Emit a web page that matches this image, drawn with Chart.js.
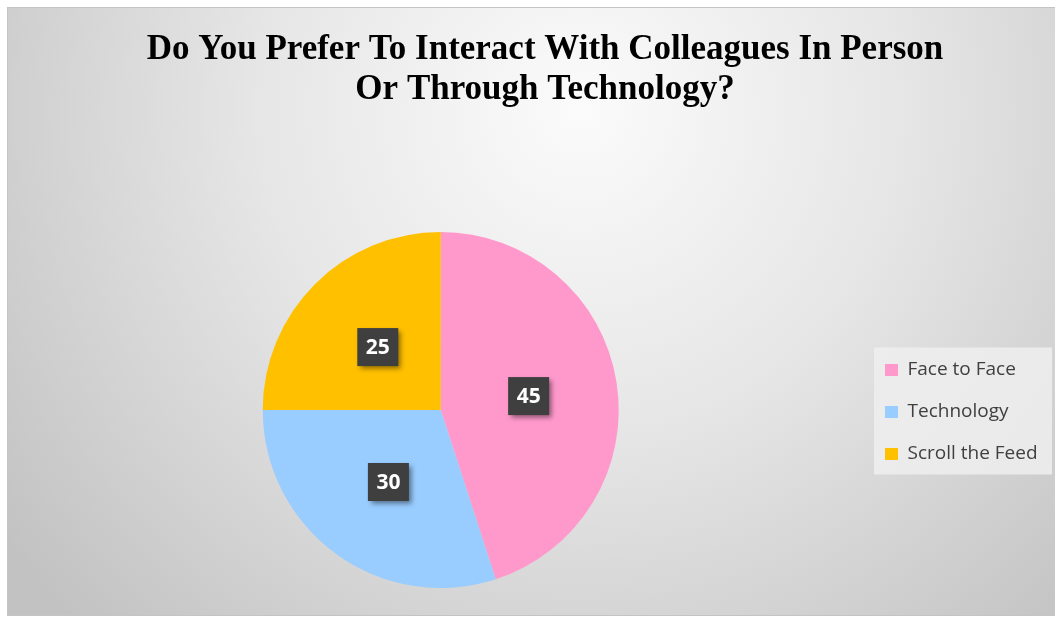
<!DOCTYPE html>
<html lang="en">
<head>
    <meta charset="UTF-8">
    <title>Interacting with colleagues</title>
    <script src="https://cdn.jsdelivr.net/npm/chart.js@4.4.0/dist/chart.umd.min.js"></script>
    <style>
        html, body { margin: 0; padding: 0; background: #ffffff; }
        canvas { display: block; }
    </style>
</head>
<body>
    <canvas id="myChart" width="1055" height="618"></canvas>

    <script>
        const labels = ['Face to Face', 'Technology', 'Scroll the Feed'];
        const values = [45, 30, 25];
        const colors = ['#FF99CC', '#99CCFF', '#FFC000'];
        const titleLines = ['Do You Prefer To Interact With Colleagues In Person', 'Or Through Technology?'];

        // grey radial backdrop inside a thin frame
        const backdrop = {
            id: 'backdrop',
            beforeDraw(chart) {
                const ctx = chart.ctx;
                ctx.save();
                ctx.fillStyle = '#ffffff';
                ctx.fillRect(0, 0, chart.width, chart.height);
                const g = ctx.createRadialGradient(580, 110, 0, 580, 110, 720);
                g.addColorStop(0, '#FBFBFB');
                g.addColorStop(0.45, '#E6E6E6');
                g.addColorStop(1, '#C2C2C2');
                ctx.fillStyle = g;
                ctx.fillRect(7, 7, chart.width - 7, 609);
                ctx.strokeStyle = '#C4C4C4';
                ctx.lineWidth = 1;
                ctx.strokeRect(7.5, 7.5, chart.width, 608);

                // legend panel
                const lg = chart.legend;
                if (lg && lg.legendHitBoxes.length) {
                    const hb = lg.legendHitBoxes;
                    const top = hb[0].top - 13;
                    const bottom = hb[hb.length - 1].top + hb[hb.length - 1].height + 11;
                    const left = lg.left + 12;
                    ctx.fillStyle = 'rgba(238,238,238,0.85)';
                    ctx.fillRect(left, top, 1052 - left, bottom - top);
                }
                ctx.restore();
            },
            afterLayout(chart) {
                // centre the title a little to the right, over the whole frame
                const t = chart.titleBlock;
                const dx = 545 - (t.left + t.right) / 2;
                t.left += dx;
                t.right += dx;
                // nudge the legend towards the right edge of the frame
                const lg = chart.legend;
                const lx = 862 - lg.left;
                lg.left += lx;
                lg.right += lx;
                lg.top += 2;
                lg.bottom += 2;
            }
        };

        // value badges: dark squares with a soft shadow
        const valueBadges = {
            id: 'valueBadges',
            afterDatasetsDraw(chart) {
                const ctx = chart.ctx;
                const meta = chart.getDatasetMeta(0);
                meta.data.forEach((arc, i) => {
                    const p = arc.tooltipPosition();
                    const w = 41, h = 38;
                    ctx.save();
                    ctx.shadowColor = 'rgba(0,0,0,0.45)';
                    ctx.shadowBlur = 5;
                    ctx.shadowOffsetX = 3;
                    ctx.shadowOffsetY = 3;
                    ctx.fillStyle = '#3F3F3F';
                    ctx.fillRect(p.x - w / 2, p.y - h / 2, w, h);
                    ctx.restore();
                    ctx.save();
                    ctx.fillStyle = '#ffffff';
                    ctx.font = 'bold 21px "Open Sans"';
                    ctx.textAlign = 'center';
                    ctx.textBaseline = 'middle';
                    ctx.fillText(String(values[i]), p.x, p.y + 1);
                    ctx.restore();
                });
            }
        };

        const ctx = document.getElementById('myChart').getContext('2d');
        const myChart = new Chart(ctx, {
            type: 'pie',
            data: {
                labels: labels,
                datasets: [{
                    data: values,
                    backgroundColor: colors,
                    borderWidth: 0
                }]
            },
            options: {
                responsive: false,
                animation: false,
                layout: {
                    padding: { top: 7, left: 14, right: 2, bottom: 30 }
                },
                plugins: {
                    title: {
                        display: true,
                        text: titleLines,
                        color: '#000000',
                        font: { family: '"Liberation Serif", "Times New Roman", serif', size: 35, weight: 'bold', lineHeight: 40 / 35 },
                        padding: { top: 23, bottom: 122 }
                    },
                    legend: {
                        position: 'right',
                        fullSize: false,
                        labels: {
                            boxWidth: 13,
                            boxHeight: 12,
                            padding: 23,
                            color: '#404040',
                            font: { family: '"Open Sans"', size: 19 }
                        }
                    },
                    tooltip: { enabled: false }
                }
            },
            plugins: [backdrop, valueBadges]
        });
    </script>
</body>
</html>
